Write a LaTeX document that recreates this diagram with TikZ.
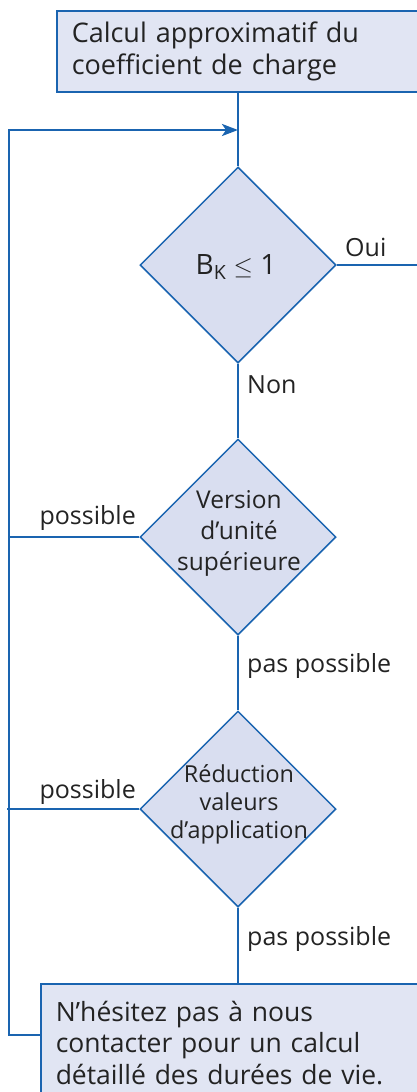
\documentclass[tikz,border=0pt]{standalone}
\usepackage{fontspec}
\setmainfont{Open Sans}
\usetikzlibrary{shapes.geometric,arrows.meta}
\definecolor{trait}{RGB}{26,100,176}
\definecolor{fondboite}{RGB}{225,229,243}
\definecolor{fondlosange}{RGB}{217,222,240}
\definecolor{texte}{RGB}{35,35,35}
\tikzset{
  boite/.style={draw=trait, line width=1.5pt, fill=fondboite, text=texte,
    anchor=north west, align=left, inner xsep=15pt, text width=380pt},
  losange/.style={diamond, aspect=1, draw=trait, line width=1.5pt,
    fill=fondlosange, minimum size=196pt, inner sep=0pt},
  liaison/.style={draw=trait, line width=2.5pt},
  etiquette/.style={text=texte, font=\fontsize{25}{30}\selectfont, inner sep=0pt},
  question/.style={text=texte, align=center, inner sep=0pt}
}
\begin{document}
\begin{tikzpicture}[x=1pt,y=-1pt]
  \useasboundingbox (0,0) rectangle (417,1092);
  % boites de depart et de fin
  \node[boite, minimum height=81pt, font=\fontsize{27}{32}\selectfont] (calcul) at (56,10)
    {Calcul approximatif du\\coefficient de charge};
  \node[boite, inner ysep=17pt, text depth=90pt, font=\fontsize{26.5}{31.5}\selectfont] (contact) at (40,983)
    {N’hésitez pas à nous\\contacter pour un calcul\\détaillé des durées de vie.};
  % losanges de decision
  \node[losange] (charge) at (238,265) {};
  \node[question, font=\fontsize{28}{30}\selectfont] at (236,267) {B\textsubscript{K} $\leq$ 1};
  \node[losange] (version) at (238,537) {};
  \node[question, font=\fontsize{24.5}{31}\selectfont] at (239,533) {Version\\d’unité\\supérieure};
  \node[losange] (reduction) at (238,809) {};
  \node[question, font=\fontsize{23.4}{28}\selectfont] at (239,804) {Réduction\\valeurs\\d’application};
  % points libres
  \coordinate (jonction) at (238,130);
  \coordinate (haut) at (9,130);
  \coordinate (bas) at (9,1035);
  \coordinate (sortie) at (420,265);
  % liaisons
  \draw[liaison] (calcul.south -| charge.north) -- (charge.north);
  \draw[liaison] (charge.south) -- (version.north);
  \draw[liaison] (version.south) -- (reduction.north);
  \draw[liaison] (reduction.south) -- (contact.north -| reduction.south);
  \draw[liaison] (charge.east) -- (sortie);
  \draw[liaison] (version.west) -- (version.west -| haut);
  \draw[liaison] (reduction.west) -- ([xshift=-2pt]reduction.west -| haut);
  \draw[liaison, -{Stealth[length=16pt, width=12pt, inset=4pt]}]
    (bas -| contact.west) -- (bas) -- (haut) -- (jonction);
  % etiquettes
  \node[etiquette, anchor=base west] at (345,256) {Oui};
  \node[etiquette, anchor=base west] at (247,393) {Non};
  \node[etiquette, anchor=base east] at (136,524) {possible};
  \node[etiquette, anchor=base west] at (247,672) {pas possible};
  \node[etiquette, anchor=base east] at (136,798) {possible};
  \node[etiquette, anchor=base west] at (247,945) {pas possible};
\end{tikzpicture}
\end{document}
